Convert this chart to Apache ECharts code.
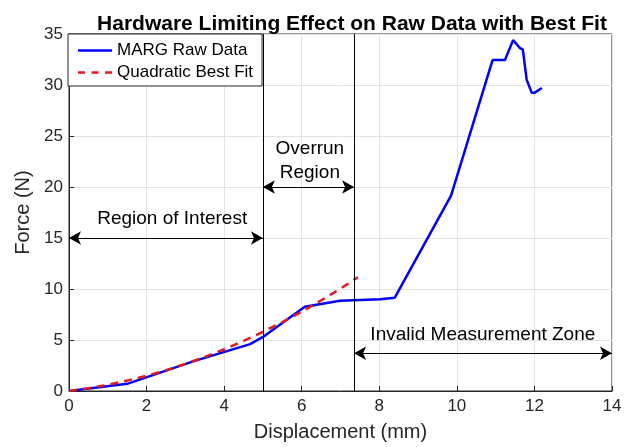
<!DOCTYPE html>
<html><head><meta charset="utf-8">
<script src="https://cdn.jsdelivr.net/npm/echarts@6/dist/echarts.min.js"></script>
<style>html,body{margin:0;padding:0;background:#fff}#c{width:629px;height:447px}</style>
</head><body><div id="c"></div>
<script>
// Data
const rawX = [0, 1.5, 3.2, 4.67, 5.0, 6.08, 6.99, 8.02, 8.40, 9.85, 10.92, 11.24, 11.45, 11.63, 11.70, 11.80, 11.93, 12.01, 12.19];
const rawY = [0, 0.7, 2.9, 4.6, 5.3, 8.26, 8.85, 9.0, 9.15, 19.15, 32.45, 32.45, 34.4, 33.6, 33.5, 30.5, 29.25, 29.25, 29.7];
const fitX = [0, 0.5, 1, 1.5, 2, 2.5, 3, 3.5, 4, 4.5, 5, 5.5, 6, 6.5, 7, 7.45];
const fitY = [0, 0.27, 0.61, 1.02, 1.50, 2.04, 2.66, 3.34, 4.09, 4.91, 5.80, 6.76, 7.78, 8.88, 10.04, 11.15];
const boundaries = [5.0, 7.35];
const arrows = [[0, 5.0, 15], [5.0, 7.35, 20], [7.35, 14, 3.7]];
const notes = [["Region of Interest", 2.66, 16.9], ["Overrun\nRegion", 6.21, 22.6], ["Invalid Measurement Zone", 10.67, 5.5]];
const seriesNames = ["MARG Raw Data", "Quadratic Best Fit"];

const FONT = "Liberation Sans, Arial, sans-serif";
const chart = echarts.init(document.getElementById('c'), null, {renderer: 'canvas'});
const pair = (xs, ys) => xs.map((x, i) => [x, ys[i]]);

const markLineData = [];
boundaries.forEach(b => markLineData.push([{coord: [b, 0], symbol: 'none'}, {coord: [b, 35], symbol: 'none'}]));
arrows.forEach(a => markLineData.push([{coord: [a[0], a[2]], symbol: 'arrow'}, {coord: [a[1], a[2]], symbol: 'arrow'}]));

const solidIcon = 'path://M0,0H34V2.5H0Z';
const dashIcon = 'path://M0,0H7V2.5H0Z M13.5,0H20.5V2.5H13.5Z M27,0H34V2.5H27Z';

chart.setOption({
  animation: false,
  title: {text: 'Hardware Limiting Effect on Raw Data with Best Fit', left: 347, textAlign: 'center', top: 9,
    textStyle: {fontFamily: FONT, fontSize: 21, fontWeight: 'bold', color: '#000'}},
  grid: {left: 69, right: 17, top: 34, bottom: 56, show: true, borderColor: '#262626', borderWidth: 1},
  legend: {data: [
      {name: seriesNames[0], icon: solidIcon, itemStyle: {color: '#0000ff'}},
      {name: seriesNames[1], icon: dashIcon, itemStyle: {color: '#e31a1c'}}],
    orient: 'vertical', left: 68, top: 34, backgroundColor: '#fff', symbolKeepAspect: true,
    borderColor: '#262626', borderWidth: 1, borderRadius: 0, padding: [8, 9, 5, 10], itemWidth: 34, itemHeight: 14, itemGap: 5,
    textStyle: {fontFamily: FONT, fontSize: 17, color: '#000'}},
  xAxis: {type: 'value', min: 0, max: 14, interval: 2, name: 'Displacement (mm)', nameLocation: 'middle', nameGap: 31,
    nameTextStyle: {fontFamily: FONT, fontSize: 20, color: '#262626'},
    axisLine: {lineStyle: {color: '#262626'}}, axisTick: {inside: true, length: 5, lineStyle: {color: '#262626'}},
    axisLabel: {fontFamily: FONT, fontSize: 17, color: '#262626', margin: 7},
    splitLine: {show: true, lineStyle: {color: '#e3e3e3'}}},
  yAxis: {type: 'value', min: 0, max: 35, interval: 5, name: 'Force (N)', nameLocation: 'middle', nameGap: 29,
    nameTextStyle: {fontFamily: FONT, fontSize: 20, color: '#262626'},
    axisLine: {show: true, lineStyle: {color: '#262626'}}, axisTick: {show: true, inside: true, length: 5, lineStyle: {color: '#262626'}},
    axisLabel: {fontFamily: FONT, fontSize: 17, color: '#262626', margin: 6},
    splitLine: {show: true, lineStyle: {color: '#e3e3e3'}}},
  series: [
    {name: seriesNames[0], type: 'line', data: pair(rawX, rawY), showSymbol: false, symbol: 'none',
      lineStyle: {color: '#0000ff', width: 2.5}, itemStyle: {color: '#0000ff'}, z: 3},
    {name: seriesNames[1], type: 'line', data: pair(fitX, fitY), showSymbol: false, symbol: 'none',
      lineStyle: {color: '#e31a1c', width: 2.5, type: [8, 6]}, itemStyle: {color: '#e31a1c'}, z: 4},
    {name: 'annotations', type: 'line', data: [], z: 2,
      markLine: {silent: true, symbolSize: [10, 12], label: {show: false},
        lineStyle: {color: '#000', width: 1, type: 'solid'}, emphasis: {disabled: true}, data: markLineData},
      markPoint: {silent: true, symbol: 'rect', symbolSize: 1, itemStyle: {color: 'rgba(0,0,0,0)'},
        label: {show: true, position: 'inside', fontFamily: FONT, fontSize: 19, color: '#000', lineHeight: 24, align: 'center'},
        data: notes.map(n => ({coord: [n[1], n[2]], value: n[0], label: {formatter: n[0]}}))}}
  ]
});
</script></body></html>
